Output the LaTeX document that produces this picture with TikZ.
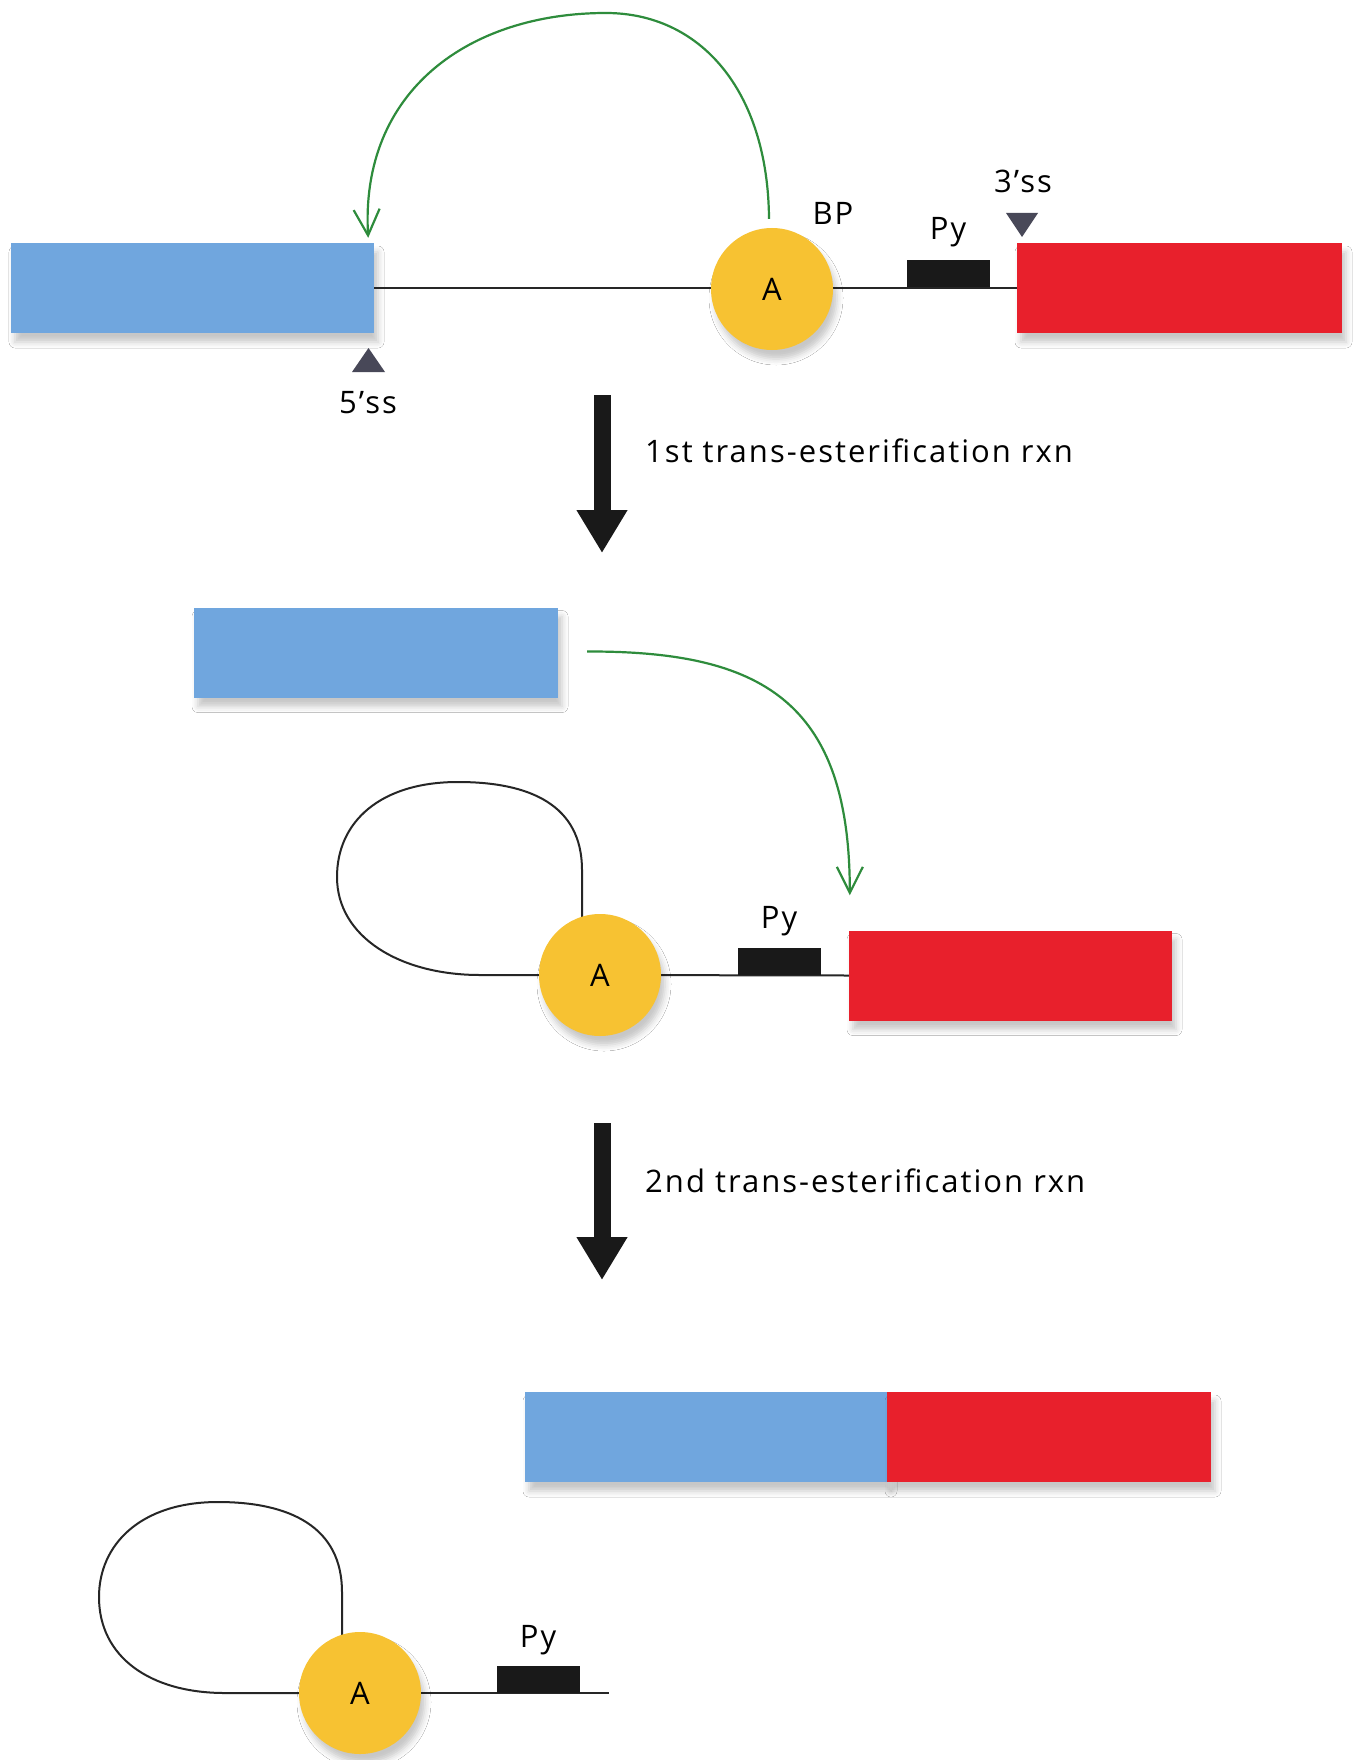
\documentclass[tikz,border=0pt]{standalone}
\usepackage{fontspec}
\setmainfont{Open Sans}
\newfontfamily\labelfont[LetterSpace=6.5]{Open Sans}
\usetikzlibrary{arrows.meta,shadows.blur}

\definecolor{exonblue}{RGB}{112,166,222}
\definecolor{exonred}{RGB}{232,32,44}
\definecolor{bpyellow}{RGB}{247,194,50}
\definecolor{attackgreen}{RGB}{46,140,60}
\definecolor{ssmark}{RGB}{72,72,88}

\tikzset{
  softshadow/.style={blur shadow={shadow xshift=4pt,shadow yshift=-9pt,
      shadow blur radius=6pt,shadow opacity=22}},
  exon/.style={rectangle, inner sep=0pt, minimum height=90pt, softshadow},
  blueexon/.style={exon, fill=exonblue},
  redexon/.style={exon, fill=exonred},
  bpnode/.style={circle, fill=bpyellow, minimum size=122pt, inner sep=0pt,
      font=\labelfont\fontsize{31}{37}\selectfont, softshadow},
  pybox/.style={rectangle, fill=black!90, minimum width=83pt,
      minimum height=27pt, inner sep=0pt},
  lbl/.style={font=\labelfont\fontsize{31}{37}\selectfont, inner sep=0pt, anchor=base},
  intron/.style={line width=2pt, black!85},
  attack/.style={attackgreen, line width=2.2pt,
      -{Straight Barb[length=26pt,width=26pt]}},
  reactarrow/.style={line width=17pt, black!90,
      -{Triangle[length=43pt,width=48pt]}},
  ssmarker/.style={fill=ssmark}
}

\begin{document}
\begin{tikzpicture}[x=1pt,y=-1pt]
\fill[white] (0,0) rectangle (1362,1760);
\useasboundingbox (0,0) rectangle (1362,1760);

% ---------- pre-mRNA ----------
\coordinate (A1c) at (772,289);
\node[blueexon, minimum width=363pt] (B1) at (192.5,288) {};
\node[redexon, minimum width=325pt] (R1) at (1179.5,288) {};
\draw[intron] (B1.east) -- (B1.east -| A1c) -- (R1.west);
\node[bpnode] (A1) at (A1c) {A};
\node[pybox] (Py1) at (948.5,273.5) {};
\node[lbl] (BPl) at (833,225) {BP};
\node[lbl] (Py1l) at (948,240) {Py};
\node[lbl] (ss3l) at (1023,193) {3’ss};
\node[lbl] (ss5l) at (368,413) {5’ss};
\fill[ssmarker] (1006,213) -- (1038,213) -- (1022,237) -- cycle;
\fill[ssmarker] (352,372) -- (385,372) -- (368.5,348) -- cycle;

% attack of the branch-point A on the 5' splice site
\draw[attack] ([xshift=-3pt,yshift=9pt]A1.north)
  .. controls (768,90) and (700,13) .. (606,13)
  .. controls (470,13) and (360,90) .. ([xshift=-6pt,yshift=5pt]B1.north east);

% ---------- first step ----------
\coordinate (s1a) at (602,395);
\coordinate (s1b) at (602,553);
\draw[reactarrow] (s1a) -- (s1b);
\node[lbl, anchor=base west] (s1l) at (645,462) {1st trans-esterification rxn};

% ---------- lariat intermediate ----------
\coordinate (A2c) at (600,975);
\node[blueexon, minimum width=364pt] (B2) at (376,652.5) {};
\node[redexon, minimum width=323pt] (R2) at (1010.5,975.5) {};
\draw[intron] (A2c) -- (R2.west);
\draw[intron] (582,960) -- (582,870)
  .. controls (582,805) and (530,782) .. (458,782)
  .. controls (380,782) and (337,822) .. (337,877)
  .. controls (337,937) and (400,975) .. (480,975) -- (A2c);
\node[bpnode] (A2) at (A2c) {A};
\node[pybox] (Py2) at (779.5,961) {};
\node[lbl] (Py2l) at (779,928) {Py};

% attack of the free 5' exon on the 3' splice site
\draw[attack] ([xshift=29pt,yshift=1pt]B2.east)
  .. controls (760,651) and (850,700) .. ([xshift=1pt,yshift=35pt]R2.north west);

% ---------- second step ----------
\coordinate (s2a) at (602,1123);
\coordinate (s2b) at (602,1280);
\draw[reactarrow] (s2a) -- (s2b);
\node[lbl, anchor=base west] (s2l) at (645,1192) {2nd trans-esterification rxn};

% ---------- products ----------
\node[blueexon, minimum width=362pt] (B3) at (706,1437) {};
\node[redexon, minimum width=324pt] (R3) at (1049,1437) {};

\coordinate (A3c) at (360,1693);
\coordinate (tail) at (609,1693);
\draw[intron] (A3c) -- (tail);
\draw[intron] (342,1680) -- (342,1592)
  .. controls (342,1527) and (290,1502) .. (218,1502)
  .. controls (140,1502) and (99,1545) .. (99,1597)
  .. controls (99,1657) and (150,1693) .. (225,1693) -- (A3c);
\node[bpnode] (A3) at (A3c) {A};
\node[pybox] (Py3) at (538,1679) {};
\node[lbl] (Py3l) at (538,1647) {Py};
\end{tikzpicture}
\end{document}
